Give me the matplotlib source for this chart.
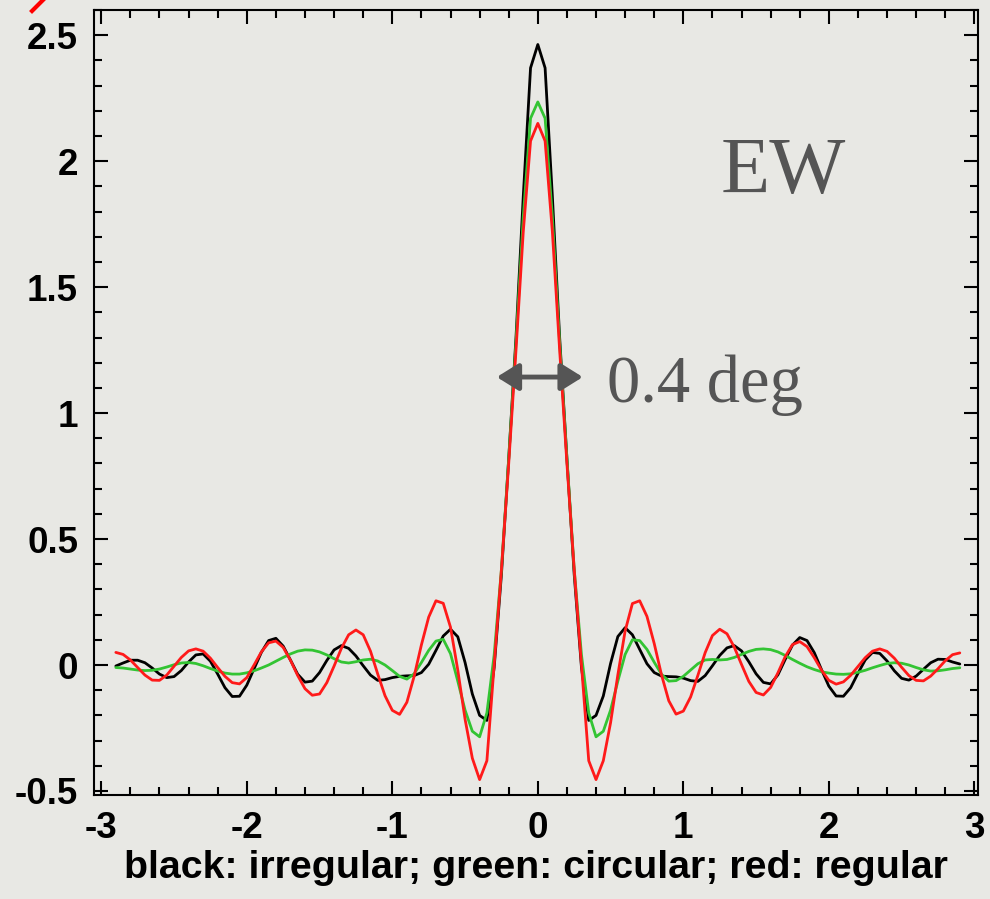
import numpy as np
import matplotlib
matplotlib.use("Agg")
import matplotlib.pyplot as plt
from matplotlib.ticker import MultipleLocator
from matplotlib.lines import Line2D

plt.rcParams['font.family'] = ['Liberation Sans', 'DejaVu Sans']
plt.rcParams['axes.unicode_minus'] = False

# beam cuts sampled every 0.05 deg
angle = np.round(np.arange(-2.9, 2.9001, 0.05), 2)

irregular = [
    -0.004, 0.008, 0.019, 0.019, 0.009, -0.012, -0.036, -0.05, -0.046, -0.022,
    0.012, 0.04, 0.044, 0.015, -0.036, -0.09, -0.125, -0.124, -0.08, -0.015,
    0.05, 0.097, 0.106, 0.075, 0.02, -0.037, -0.068, -0.064, -0.03, 0.018,
    0.06, 0.077, 0.066, 0.036, -0.003, -0.04, -0.061, -0.058, -0.05, -0.045,
    -0.043, -0.042, -0.03, 0.003, 0.058, 0.115, 0.142, 0.112, 0.01, -0.115,
    -0.20, -0.22, -0.01, 0.36, 0.82, 1.30, 1.86, 2.37,
    2.463,
    2.37, 1.86, 1.30, 0.82, 0.36, -0.01, -0.22, -0.20, -0.123, 0.006,
    0.113, 0.148, 0.12, 0.062, 0.005, -0.03, -0.044, -0.046, -0.047, -0.052,
    -0.062, -0.065, -0.042, -0.003, 0.038, 0.068, 0.077, 0.056, 0.013, -0.035,
    -0.069, -0.075, -0.039, 0.022, 0.079, 0.109, 0.097, 0.049, -0.019, -0.084,
    -0.123, -0.124, -0.09, -0.033, 0.02, 0.05, 0.046, 0.016, -0.023, -0.053,
    -0.06, -0.044, -0.017, 0.009, 0.023, 0.022, 0.012, 0.004,
]

circular = [
    -0.01, -0.012, -0.016, -0.02, -0.022, -0.021, -0.016, -0.008, 0.001, 0.008,
    0.01, 0.006, -0.003, -0.014, -0.024, -0.032, -0.036, -0.036, -0.031, -0.023,
    -0.012, 0.0, 0.015, 0.03, 0.044, 0.055, 0.06, 0.059, 0.052, 0.04,
    0.025, 0.012, 0.008, 0.013, 0.02, 0.023, 0.016, 0.0, -0.022, -0.045,
    -0.056, -0.035, 0.01, 0.058, 0.095, 0.102, 0.045, -0.064, -0.179, -0.263,
    -0.285, -0.19, 0.04, 0.38, 0.82, 1.28, 1.78, 2.17,
    2.235,
    2.17, 1.78, 1.28, 0.82, 0.38, 0.04, -0.19, -0.285, -0.263, -0.179,
    -0.064, 0.042, 0.10, 0.097, 0.062, 0.011, -0.037, -0.064, -0.062, -0.045,
    -0.02, 0.005, 0.02, 0.022, 0.02, 0.022, 0.03, 0.042, 0.054, 0.062,
    0.064, 0.061, 0.052, 0.038, 0.022, 0.007, -0.007, -0.018, -0.027, -0.032,
    -0.036, -0.037, -0.035, -0.029, -0.021, -0.011, -0.002, 0.006, 0.009, 0.007,
    0.0, -0.01, -0.019, -0.024, -0.023, -0.019, -0.014, -0.011,
]

regular = [
    0.05, 0.042, 0.02, -0.01, -0.04, -0.06, -0.061, -0.04, -0.005, 0.03,
    0.056, 0.064, 0.055, 0.027, -0.01, -0.045, -0.07, -0.075, -0.05, 0.0,
    0.052, 0.088, 0.095, 0.07, 0.019, -0.042, -0.094, -0.12, -0.115, -0.07,
    -0.004, 0.066, 0.12, 0.139, 0.12, 0.055, -0.036, -0.122, -0.18, -0.196,
    -0.148, -0.045, 0.08, 0.19, 0.255, 0.245, 0.15, -0.02, -0.215, -0.37,
    -0.455, -0.38, 0.0, 0.38, 0.80, 1.25, 1.72, 2.08,
    2.15,
    2.08, 1.72, 1.25, 0.80, 0.38, 0.0, -0.38, -0.455, -0.38, -0.229,
    -0.039, 0.135, 0.244, 0.255, 0.193, 0.085, -0.039, -0.142, -0.195, -0.183,
    -0.127, -0.041, 0.049, 0.117, 0.142, 0.124, 0.071, 0.002, -0.065, -0.109,
    -0.119, -0.089, -0.031, 0.033, 0.081, 0.093, 0.073, 0.029, -0.021, -0.061,
    -0.076, -0.067, -0.041, -0.006, 0.029, 0.055, 0.064, 0.054, 0.027, -0.009,
    -0.042, -0.061, -0.063, -0.044, -0.015, 0.017, 0.041, 0.048,
]

xticks = [-3, -2, -1, 0, 1, 2, 3]
yticks = [-0.5, 0, 0.5, 1, 1.5, 2, 2.5]
xlabels = ['-3', '-2', '-1', '0', '1', '2', '3']
ylabels = ['-0.5', '0', '0.5', '1', '1.5', '2', '2.5']

bg = '#e8e8e4'
fig = plt.figure(figsize=(9.9, 8.99), dpi=100, facecolor=bg)
ax = fig.add_axes([94 / 990, 1 - 795 / 899, (978 - 94) / 990, (795 - 10) / 899])
ax.set_facecolor(bg)

line_kw = dict(lw=2.0, solid_joinstyle='round', solid_capstyle='round')
ax.plot(angle, irregular, color='black', **line_kw)
ax.plot(angle, circular, color='#33c433', **line_kw)
ax.plot(angle, regular, color='#ff1a1a', **line_kw)

ax.set_xlim(-3.05, 3.025)
ax.set_ylim(-0.516, 2.6)
ax.set_xticks(xticks)
ax.set_xticklabels(xlabels)
ax.set_yticks(yticks)
ax.set_yticklabels(ylabels)
ax.xaxis.set_minor_locator(MultipleLocator(0.2))
ax.yaxis.set_minor_locator(MultipleLocator(0.1))
ax.tick_params(which='both', direction='in', top=True, right=True, width=1.5,
               pad=11.5, labelsize=26.5)
ax.tick_params(which='major', length=10)
ax.tick_params(which='minor', length=5.5)
for lab in ax.get_xticklabels() + ax.get_yticklabels():
    lab.set_fontweight('bold')
for sp in ax.spines.values():
    sp.set_linewidth(1.5)

ax.set_xlabel('black: irregular; green: circular; red: regular',
              fontsize=28.4, fontweight='bold', labelpad=3)

ax.text(1.684, 1.873, 'EW', family='Liberation Serif', fontsize=58,
        color='#555555', ha='center', va='baseline')
ax.text(0.474, 1.045, '0.4 deg', family='Liberation Serif', fontsize=48,
        color='#555555', ha='left', va='baseline')
ax.annotate('', xy=(0.309, 1.143), xytext=(-0.282, 1.143),
            arrowprops=dict(arrowstyle='<|-|>,head_length=0.4,head_width=0.25',
                            color='#555555', lw=3.5, mutation_scale=33,
                            shrinkA=0, shrinkB=0))

# stray red stroke in the top-left corner
fig.add_artist(Line2D([32 / 990, 43 / 990], [1 - 11 / 899, 1.0],
                      transform=fig.transFigure, color='red', lw=3))

fig.savefig('out.png', dpi=100, facecolor=bg)
